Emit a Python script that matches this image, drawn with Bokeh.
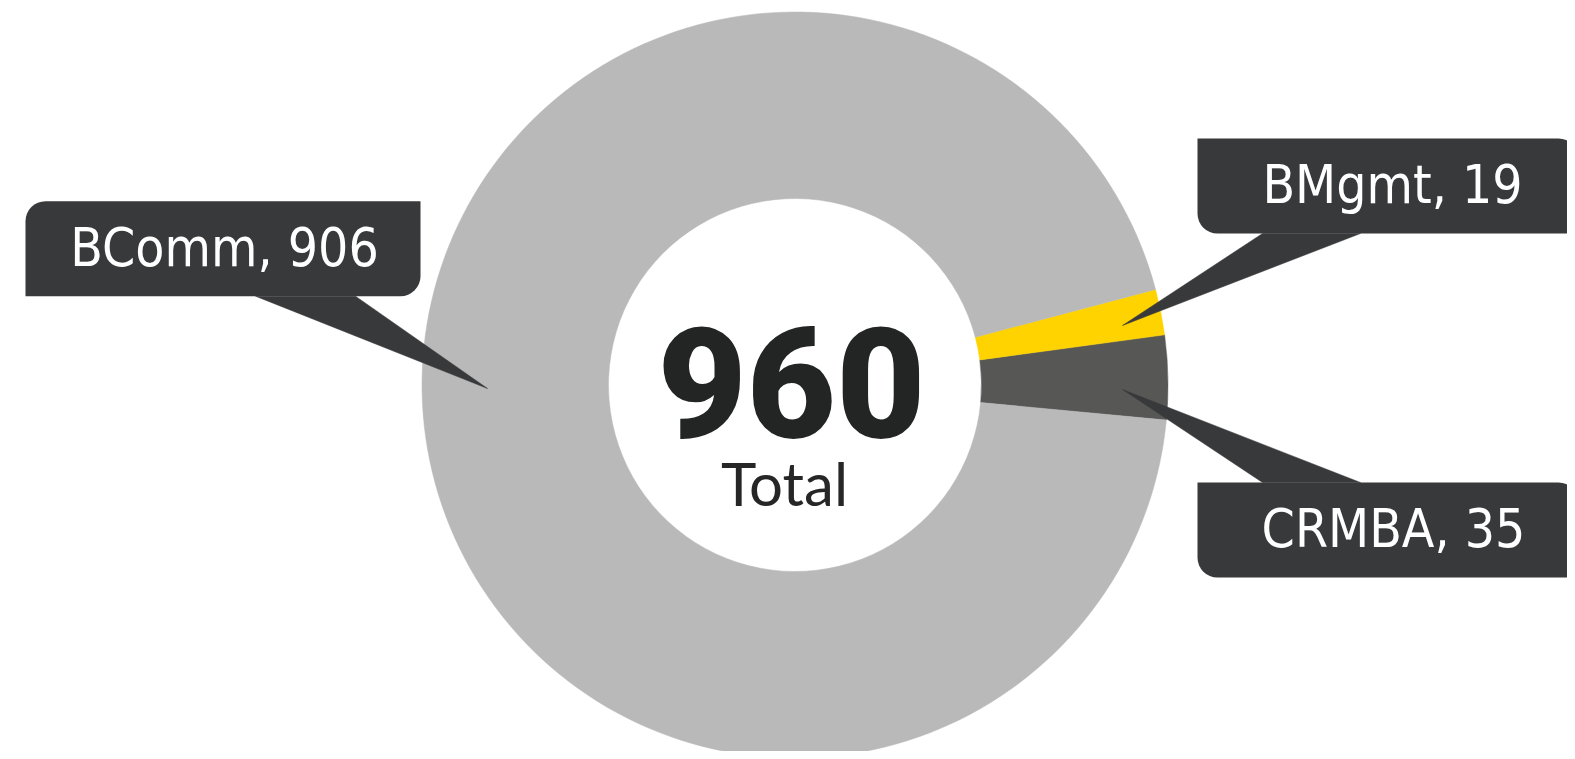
import math
from bokeh.plotting import figure
from bokeh.models import Range1d, ColumnDataSource
from bokeh.core.properties import value
from bokeh.embed import file_html
from bokeh.resources import INLINE

# ---- data ----
categories = ["BComm", "BMgmt", "CRMBA"]
values = [906, 19, 35]
total_label = "Total"
slice_colors = ["#b8b9b8", "#ffd300", "#575756"]

# ---- layout (screen pixel coordinates of the page) ----
W, H = 1567, 751
CX, CY = 794.5, 384.5
R_OUT, R_IN = 373.0, 186.5
START_DEG = -5.4          # slices drawn counter-clockwise from here
DRAW_ORDER = [2, 1, 0]    # CRMBA, BMgmt, BComm

BOX_COLOR = "#38393b"
LABEL_FONT = "DejaVu Sans Condensed"
LABEL_SIZE = 53
BASE_SHIFT = 0.355        # measured offset of the renderer's alphabetic baseline (em)

# callout layout per category: box (left, right, top, bottom), corner radii,
# pointer base (x1, x2, y), pointer tip (x, y), text anchor (x, baseline y)
callouts = {
    "BComm": dict(box=(25, 420, 200.7, 295.7), radii=(20, 0, 20, 0),
                  base=(255, 355, 295.7), tip=(487, 388), text=(224, 266)),
    "BMgmt": dict(box=(1197, 1578, 138, 233), radii=(0, 20, 0, 20),
                  base=(1262, 1360, 233), tip=(1122, 325), text=(1392, 203)),
    "CRMBA": dict(box=(1197, 1578, 482, 577), radii=(0, 20, 0, 20),
                  base=(1262, 1360, 482), tip=(1122, 389), text=(1393, 547)),
}


def Y(sy):
    return -sy


def TY(baseline, size):
    return Y(baseline - BASE_SHIFT * size)


p = figure(width=W, height=H, output_backend="svg", toolbar_location=None,
           x_range=Range1d(0, W), y_range=Range1d(Y(H), Y(0)),
           x_axis_type=None, y_axis_type=None, min_border=0,
           background_fill_color="white", border_fill_color="white")
p.outline_line_color = None
p.grid.visible = False

# ---- donut ----
total = sum(values)
starts, ends, cols = [], [], []
a = math.radians(START_DEG)
for i in DRAW_ORDER:
    span = 2 * math.pi * values[i] / total
    starts.append(a)
    ends.append(a + span)
    cols.append(slice_colors[i])
    a += span

src = ColumnDataSource(dict(x=[CX] * len(starts), y=[Y(CY)] * len(starts),
                            start=starts, end=ends, color=cols))
p.annular_wedge(x="x", y="y", inner_radius=R_IN, outer_radius=R_OUT,
                start_angle="start", end_angle="end", fill_color="color",
                line_color="color", line_width=0.5, source=src)

# ---- callouts ----
for cat, v in zip(categories, values):
    c = callouts[cat]
    l, r, t, b = c["box"]
    p.quad(left=[l], right=[r], top=[Y(t)], bottom=[Y(b)],
           fill_color=BOX_COLOR, line_color=None, border_radius=c["radii"])
    x1, x2, by = c["base"]
    tx, ty = c["tip"]
    p.patch(x=[x1, x2, tx], y=[Y(by), Y(by), Y(ty)],
            fill_color=BOX_COLOR, line_color=BOX_COLOR, line_width=0.5)
    sx, sy = c["text"]
    p.text(x=[sx], y=[TY(sy, LABEL_SIZE)], text=[f"{cat}, {v}"], text_color="white",
           text_font=value(LABEL_FONT), text_font_size=f"{LABEL_SIZE}px",
           text_align="center", text_baseline="alphabetic")

# ---- centre total ----
p.text(x=[791], y=[TY(437, 154)], text=[str(total)], text_color="#232524",
       text_font=value("Roboto Black, Lato Black, Roboto"), text_font_size="154px",
       text_font_style="normal", text_align="center", text_baseline="alphabetic")
p.text(x=[784], y=[TY(504, 60)], text=[total_label], text_color="#262626",
       text_font=value("Lato"), text_font_size="60px",
       text_align="center", text_baseline="alphabetic")

open("out.html", "w").write(file_html(p, INLINE))
